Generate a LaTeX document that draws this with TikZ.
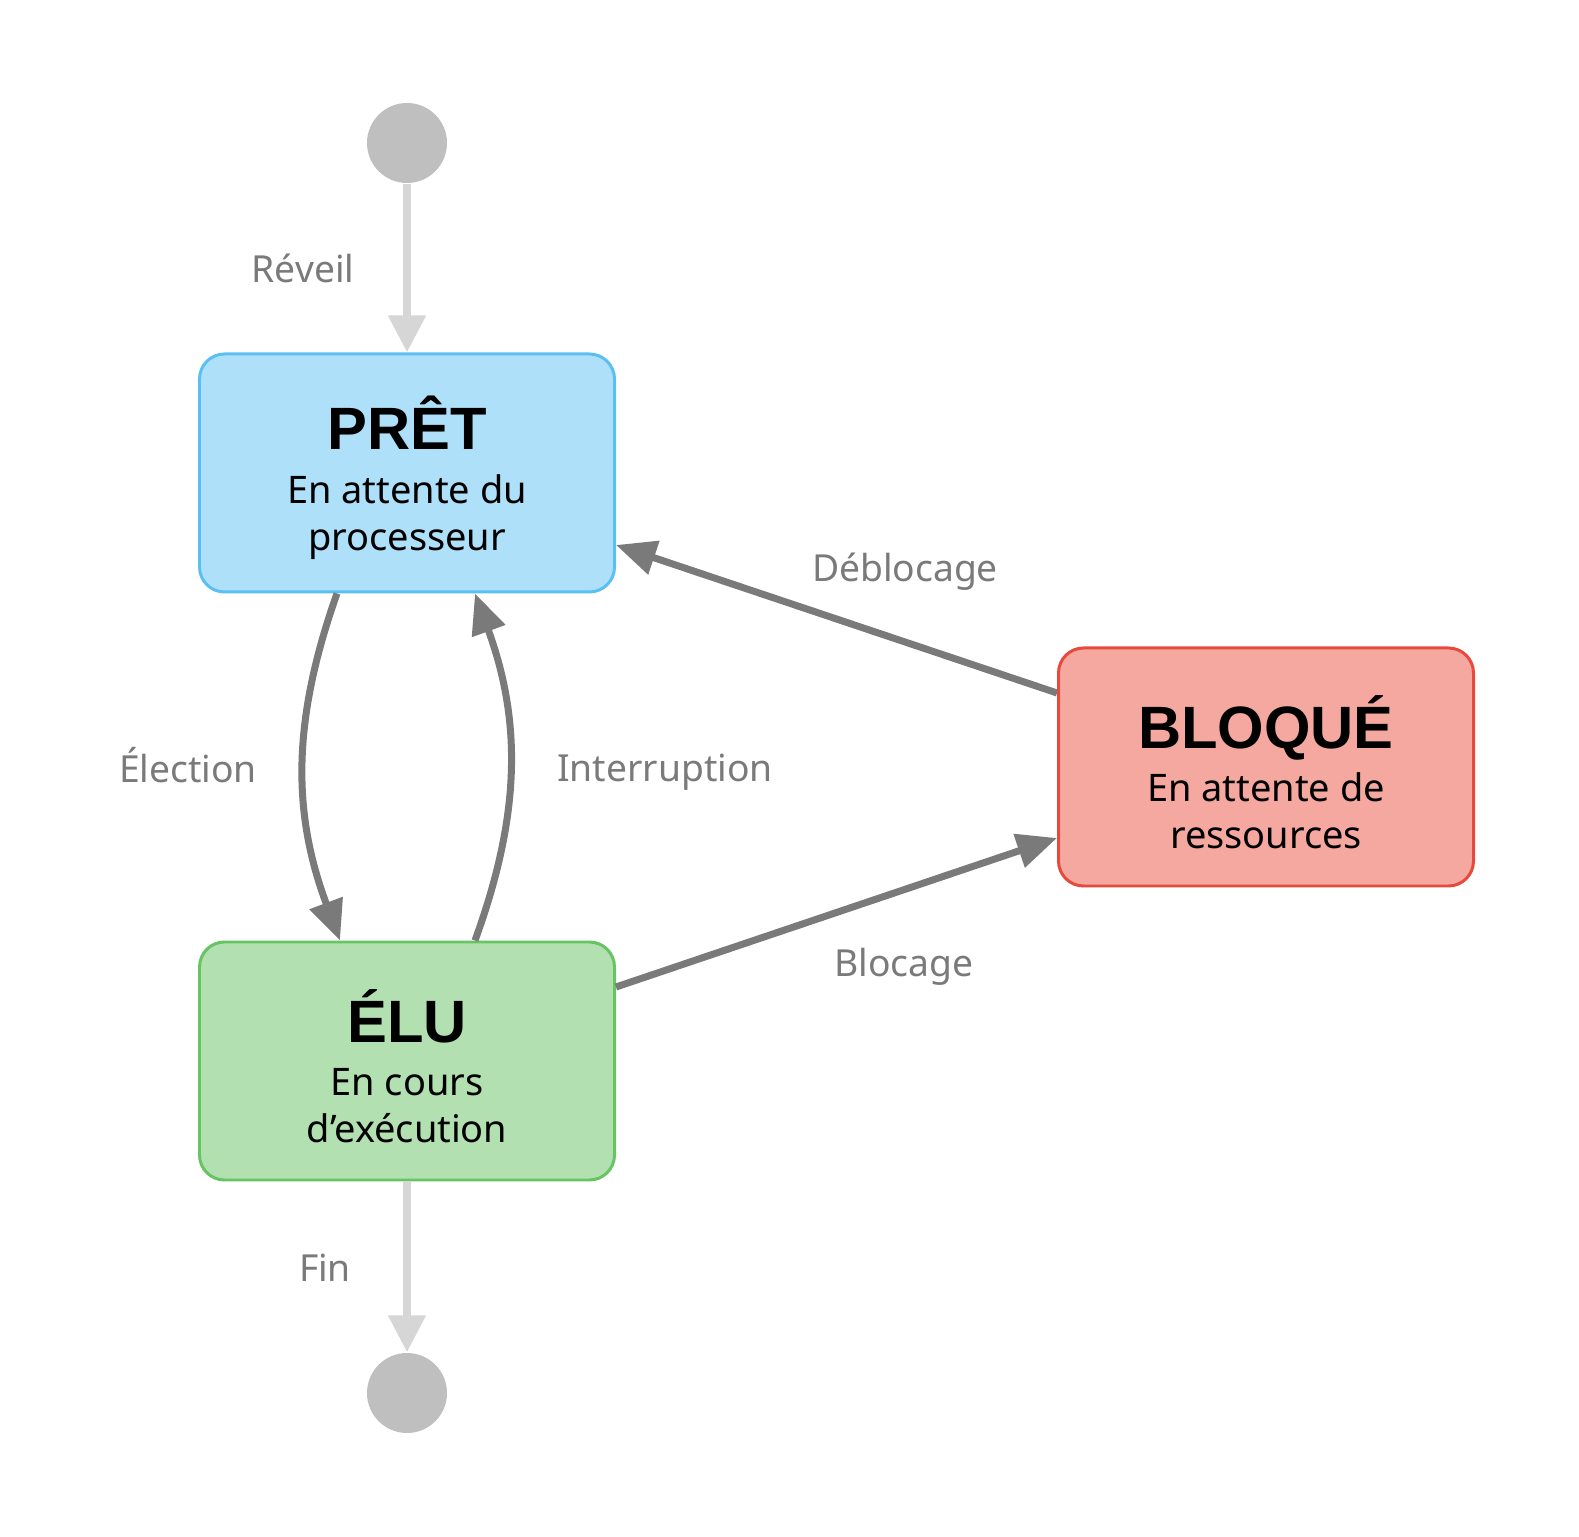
\documentclass[tikz,border=0pt]{standalone}
\usepackage{fontspec}
\setmainfont{Noto Sans}
\newfontfamily\titrefont{Liberation Sans}
\usepackage{tikz}
\usetikzlibrary{arrows.meta}

\definecolor{bleuFond}{HTML}{AEE0F9}
\definecolor{bleuBord}{HTML}{5AC0F2}
\definecolor{vertFond}{HTML}{B2E0B0}
\definecolor{vertBord}{HTML}{66C462}
\definecolor{rougeFond}{HTML}{F4A8A0}
\definecolor{rougeBord}{HTML}{E8493D}
\definecolor{gris}{HTML}{7A7A7A}
\definecolor{grisClair}{HTML}{D6D6D6}
\definecolor{grisRond}{HTML}{BFBFBF}

\newcommand{\titre}[1]{{\titrefont\fontsize{17}{20}\selectfont\bfseries\rule{0pt}{18pt}#1}}

\begin{document}
\begin{tikzpicture}[
  etat/.style={draw, line width=0.85pt, rounded corners=0.25cm, minimum width=4.15cm,
    minimum height=2.38cm, align=center, font=\fontsize{10.8}{13.4}\selectfont},
  rond/.style={circle, fill=grisRond, minimum size=0.8cm, inner sep=0pt},
  fleche/.style={draw=gris, line width=0.07cm, -{Triangle[width=0.34cm,length=0.40cm]}},
  flecheClaire/.style={draw=grisClair, line width=0.08cm, -{Triangle[width=0.36cm,length=0.37cm]}},
  etiquette/.style={text=gris, anchor=base, font=\fontsize{10.6}{12}\selectfont}
]
 \useasboundingbox (0,0) rectangle (15.79,-15.37);

 \node[rond] (debut) at (4.07,-1.43) {};
 \node[etat, fill=bleuFond, draw=bleuBord] (pret) at (4.07,-4.73)
   {\titre{PRÊT}\\[1.7pt]En attente du\\processeur};
 \node[etat, fill=vertFond, draw=vertBord] (elu) at (4.07,-10.61)
   {\titre{ÉLU}\\[1.7pt]En cours\\d’exécution};
 \node[etat, fill=rougeFond, draw=rougeBord] (bloque) at (12.66,-7.67)
   {\titre{BLOQUÉ}\\[1.7pt]En attente de\\ressources};
 \node[rond] (fin) at (4.07,-13.93) {};

 \draw[flecheClaire] (debut) -- (pret.north);
 \draw[flecheClaire] (elu.south) -- (fin.north);
 \draw[fleche] ([xshift=-7mm]pret.south) to[bend right=20] ([xshift=-6.7mm]elu.north);
 \draw[fleche] ([xshift=6.8mm]elu.north) to[bend right=20] ([xshift=6.8mm]pret.south);
 \draw[fleche] ([yshift=7.4mm]bloque.west) -- ([yshift=-7.2mm]pret.east);
 \draw[fleche] ([yshift=7.4mm]elu.east) -- ([yshift=-7.1mm]bloque.west);

 \node[etiquette] (l-reveil) at (3.03,-2.83) {Réveil};
 \node[etiquette] (l-election) at (1.88,-7.83) {Élection};
 \node[etiquette] (l-interruption) at (6.65,-7.82) {Interruption};
 \node[etiquette] (l-deblocage) at (9.05,-5.82) {Déblocage};
 \node[etiquette] (l-blocage) at (9.04,-9.77) {Blocage};
 \node[etiquette] (l-fin) at (3.25,-12.82) {Fin};
\end{tikzpicture}
\end{document}
